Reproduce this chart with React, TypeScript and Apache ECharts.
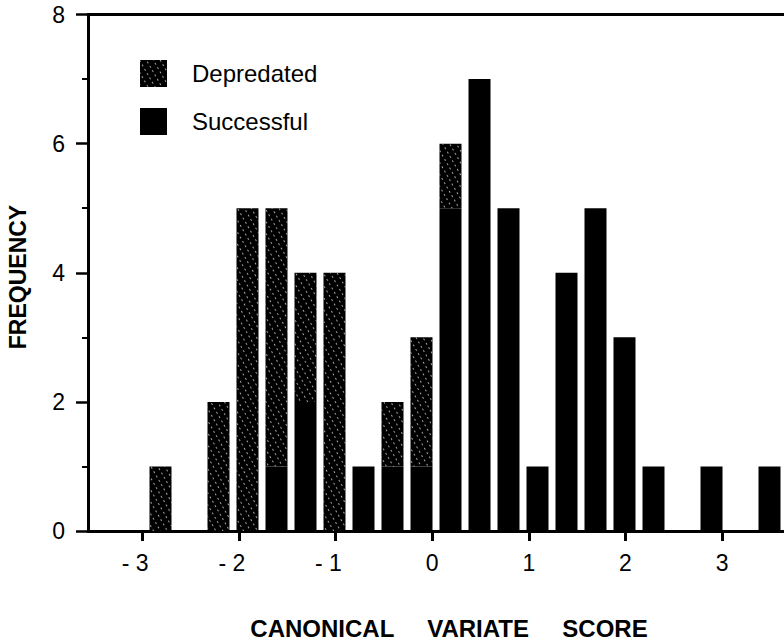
import React, { useEffect, useRef } from "react";
import * as echarts from "echarts";

// Histogram bins (bin centres, canonical variate score)
const binCenters = [
  "-3.45", "-3.15", "-2.85", "-2.55", "-2.25", "-1.95", "-1.65", "-1.35",
  "-1.05", "-0.75", "-0.45", "-0.15", "0.15", "0.45", "0.75", "1.05",
  "1.35", "1.65", "1.95", "2.25", "2.55", "2.85", "3.15", "3.45",
];
const successful = [0, 0, 0, 0, 0, 0, 1, 2, 0, 1, 1, 1, 5, 7, 5, 1, 4, 5, 3, 1, 0, 1, 0, 1];
const depredated = [0, 0, 1, 0, 2, 5, 4, 2, 4, 0, 1, 2, 1, 0, 0, 0, 0, 0, 0, 0, 0, 0, 0, 0];

const xTickValues = [-3, -2, -1, 0, 1, 2, 3];
const xTickLabels = ["- 3", "- 2", "- 1", "0", "1", "2", "3"];
const yMin = 0;
const yMax = 8;
const yInterval = 2;

const seriesNames = ["Depredated", "Successful"];
const xTitle = "CANONICAL     VARIATE     SCORE";
const yTitle = "FREQUENCY";

const FONT = "'Liberation Sans', Arial, Helvetica, sans-serif";

export default function App() {
  const ref = useRef<HTMLDivElement>(null);

  useEffect(() => {
    if (!ref.current) return;
    const chart = echarts.init(ref.current, null, { renderer: "svg" });

    const hatch = {
      symbol: "rect",
      symbolSize: 0.8,
      color: "rgba(255,255,255,0.8)",
      dashArrayX: [1.2, 2.2],
      dashArrayY: [1, 4.5],
      rotation: Math.PI / 3,
    };

    const xRange = { min: -3.56, max: 3.64 };

    chart.setOption({
      animation: false,
      backgroundColor: "#fff",
      textStyle: { fontFamily: FONT, color: "#000" },
      grid: { left: 88, right: -4, top: 14.5, bottom: 112, containLabel: false },
      legend: {
        data: [seriesNames[0], seriesNames[1]],
        orient: "vertical",
        left: 135,
        top: 55,
        itemWidth: 27,
        itemHeight: 27,
        itemGap: 21,
        icon: "rect",
        selectedMode: false,
        textStyle: {
          fontSize: 24,
          fontFamily: FONT,
          color: "#000",
          padding: [0, 0, 0, 20],
        },
      },
      xAxis: [
        {
          type: "category",
          data: binCenters,
          show: false,
          boundaryGap: true,
        },
        {
          type: "value",
          position: "bottom",
          min: xRange.min,
          max: xRange.max,
          axisLine: { show: true, onZero: false, lineStyle: { color: "#000", width: 3 } },
          axisTick: {
            show: true,
            customValues: xTickValues,
            length: 10,
            lineStyle: { color: "#000", width: 3 },
          },
          axisLabel: {
            show: true,
            customValues: xTickValues,
            margin: 20,
            fontSize: 23,
            fontFamily: FONT,
            color: "#000",
            formatter: (v: number) => {
              const i = xTickValues.indexOf(Math.round(v));
              const t = i >= 0 ? xTickLabels[i] : String(v);
              return v < 0 ? "{n|" + t + "}" : t;
            },
            rich: {
              n: { fontSize: 23, fontFamily: FONT, color: "#000", padding: [0, 14, 0, 0] },
            },
          },
          splitLine: { show: false },
        },
        {
          type: "value",
          position: "top",
          min: xRange.min,
          max: xRange.max,
          axisLine: { show: true, onZero: false, lineStyle: { color: "#000", width: 3 } },
          axisTick: { show: false },
          axisLabel: { show: false },
          splitLine: { show: false },
        },
      ],
      yAxis: {
        type: "value",
        min: yMin,
        max: yMax,
        interval: yInterval,
        axisLine: { show: true, onZero: false, lineStyle: { color: "#000", width: 3 } },
        axisTick: { show: true, length: 12, lineStyle: { color: "#000", width: 2.5 } },
        minorTick: { show: true, splitNumber: 2, length: 6, lineStyle: { color: "#000", width: 2 } },
        axisLabel: { margin: 23, fontSize: 23, fontFamily: FONT, color: "#000" },
        splitLine: { show: false },
      },
      series: [
        {
          name: seriesNames[1],
          type: "bar",
          stack: "total",
          xAxisIndex: 0,
          yAxisIndex: 0,
          barWidth: 22,
          data: successful,
          itemStyle: { color: "#000" },
        },
        {
          name: seriesNames[0],
          type: "bar",
          stack: "total",
          xAxisIndex: 0,
          yAxisIndex: 0,
          barWidth: 22,
          data: depredated,
          itemStyle: { color: "#000", decal: hatch },
        },
      ],
      graphic: [
        {
          type: "text",
          x: 449,
          y: 628,
          style: {
            text: xTitle,
            fontSize: 24,
            fontWeight: "bold",
            fontFamily: FONT,
            fill: "#000",
            align: "center",
            verticalAlign: "middle",
          },
        },
        {
          type: "text",
          x: 17.5,
          y: 277,
          rotation: Math.PI / 2,
          style: {
            text: yTitle,
            fontSize: 23,
            fontWeight: "bold",
            fontFamily: FONT,
            fill: "#000",
            align: "center",
            verticalAlign: "middle",
          },
        },
      ],
    });

    return () => chart.dispose();
  }, []);

  return (
    <div
      ref={ref}
      style={{ position: "absolute", left: 0, top: 0, width: 784, height: 643, background: "#fff" }}
    />
  );
}
